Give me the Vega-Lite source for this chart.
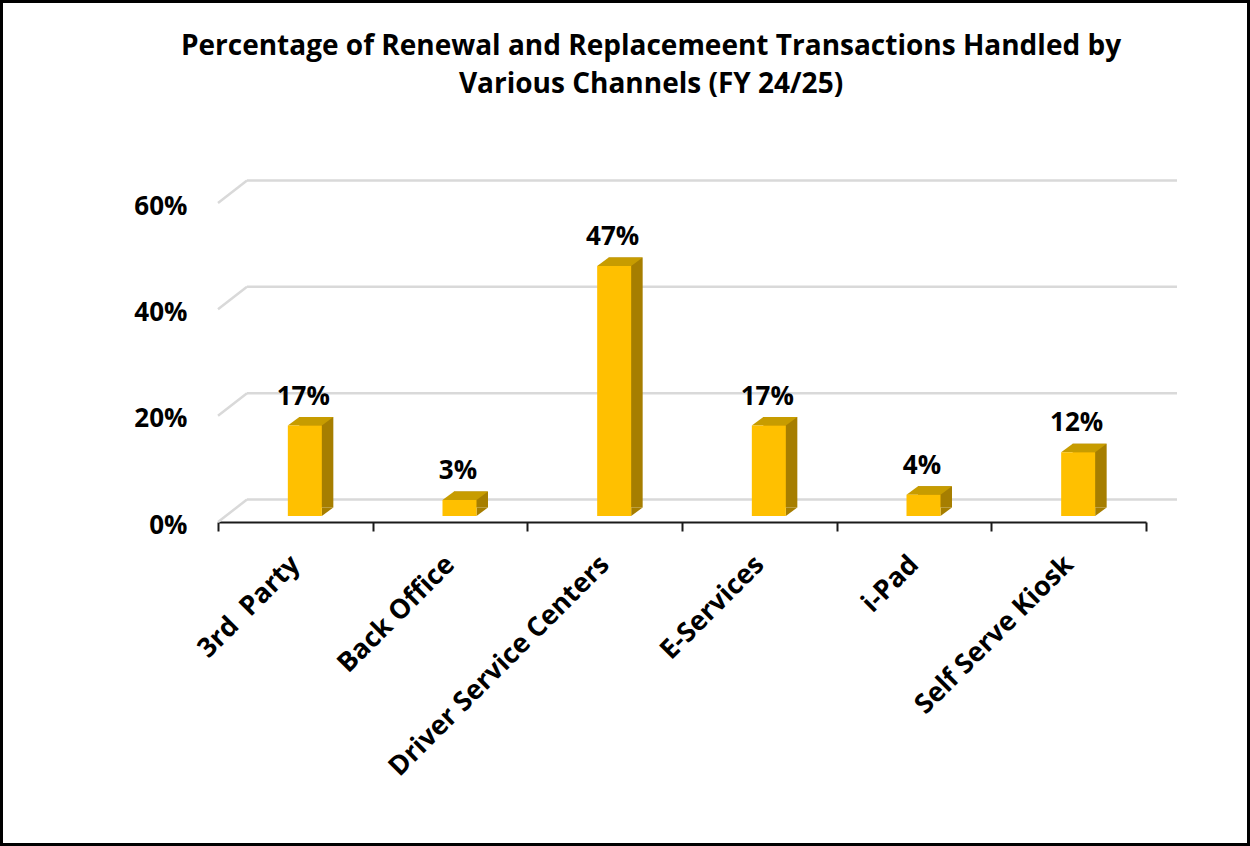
{
  "$schema": "https://vega.github.io/schema/vega-lite/v6.json",
  "width": 1250,
  "height": 846,
  "autosize": {"type": "none"},
  "padding": 0,
  "background": "white",
  "config": {
    "view": {"stroke": "black", "strokeWidth": 6},
    "font": "Open Sans"
  },
  "title": {
    "text": ["Percentage of Renewal and Replacemeent Transactions Handled by", "Various Channels (FY 24/25)"],
    "font": "Open Sans",
    "fontSize": 28,
    "fontWeight": "bold",
    "color": "black",
    "lineHeight": 38,
    "anchor": "middle",
    "offset": -98.5,
    "dx": 26
  },
  "datasets": {
    "main": [
      {"channel": "3rd  Party", "pct": 0.17},
      {"channel": "Back Office", "pct": 0.03},
      {"channel": "Driver Service Centers", "pct": 0.47},
      {"channel": "E-Services", "pct": 0.17},
      {"channel": "i-Pad", "pct": 0.04},
      {"channel": "Self Serve Kiosk", "pct": 0.12}
    ],
    "grid": [{"v": 0}, {"v": 0.2}, {"v": 0.4}, {"v": 0.6}]
  },
  "layer": [
    {
      "data": {"name": "grid"},
      "mark": {"type": "rule", "color": "#D9D9D9", "strokeWidth": 2.5, "xOffset": 29, "x2Offset": 31, "yOffset": -22.5},
      "encoding": {
        "x": {"datum": "3rd  Party", "bandPosition": 0, "type": "nominal", "title": null,
          "scale": {"domain": ["3rd  Party", "Back Office", "Driver Service Centers", "E-Services", "i-Pad", "Self Serve Kiosk"], "range": [218, 1146], "paddingInner": 0, "paddingOuter": 0}},
        "x2": {"datum": "Self Serve Kiosk", "bandPosition": 1},
        "y": {"field": "v", "type": "quantitative", "title": null, "scale": {"domain": [0, 0.6], "range": [522, 203]}}
      }
    },
    {
      "data": {"name": "grid"},
      "mark": {"type": "rule", "color": "#D9D9D9", "strokeWidth": 2.5, "x2Offset": 29, "y2Offset": -22.5},
      "encoding": {
        "x": {"datum": "3rd  Party", "bandPosition": 0, "type": "nominal", "title": null},
        "x2": {"datum": "3rd  Party", "bandPosition": 0},
        "y": {"field": "v", "type": "quantitative", "title": null},
        "y2": {"field": "v"}
      }
    },
    {
      "data": {"name": "main"},
      "mark": {"type": "bar", "width": 34, "fill": "#A67E00", "xOffset": 21, "yOffset": -14.5, "y2Offset": -14.5},
      "encoding": {
        "x": {"field": "channel", "type": "nominal", "title": null},
        "y": {"field": "pct", "type": "quantitative", "title": null}
      }
    },
    {
      "data": {"name": "main"},
      "mark": {"type": "point", "shape": "M17,0L28.5,-8.5L17,-8.5Z", "size": 4, "filled": true, "fill": "#A67E00", "opacity": 1, "strokeWidth": 0, "xOffset": 9.5, "yOffset": -6},
      "encoding": {
        "x": {"field": "channel", "type": "nominal", "title": null},
        "y": {"datum": 0, "type": "quantitative", "title": null}
      }
    },
    {
      "data": {"name": "main"},
      "mark": {"type": "point", "shape": "M-17,0L17,0L28.5,-8.5L-5.5,-8.5Z", "size": 4, "filled": true, "fill": "#C79C00", "opacity": 1, "strokeWidth": 0, "xOffset": 9.5, "yOffset": -6},
      "encoding": {
        "x": {"field": "channel", "type": "nominal", "title": null},
        "y": {"field": "pct", "type": "quantitative", "title": null}
      }
    },
    {
      "data": {"name": "main"},
      "mark": {"type": "bar", "width": 34, "fill": "#FFC000", "xOffset": 9.5, "yOffset": -6, "y2Offset": -6},
      "encoding": {
        "x": {"field": "channel", "type": "nominal", "title": null,
          "axis": {"orient": "bottom", "offset": -324, "domainColor": "#1a1a1a", "domainWidth": 2, "ticks": true, "tickBand": "extent", "tickSize": 9, "tickWidth": 2, "tickColor": "#1a1a1a", "grid": false, "labelAngle": -45, "labelAlign": "right", "labelBaseline": "middle", "labelPadding": 29, "labelOffset": 0, "labelFont": "Open Sans", "labelFontSize": 27, "labelFontWeight": "bold", "labelColor": "black", "labelLimit": 0, "labelExpr": "replace(datum.label, '  ', '\u00a0\u00a0')"}},
        "y": {"field": "pct", "type": "quantitative", "title": null,
          "axis": {"orient": "left", "offset": -218, "values": [0, 0.2, 0.4, 0.6], "format": ".0%", "domain": false, "ticks": false, "tickSize": 0, "grid": false, "labelPadding": 31, "labelOffset": 3, "labelFont": "Open Sans", "labelFontSize": 26, "labelFontWeight": "bold", "labelColor": "black"}}
      }
    },
    {
      "data": {"name": "main"},
      "mark": {"type": "text", "font": "Open Sans", "fontSize": 26, "fontWeight": "bold", "color": "black", "align": "center", "baseline": "alphabetic", "xOffset": 8, "yOffset": -27},
      "encoding": {
        "x": {"field": "channel", "type": "nominal", "title": null},
        "y": {"field": "pct", "type": "quantitative", "title": null},
        "text": {"field": "pct", "type": "quantitative", "format": ".0%"}
      }
    }
  ]
}
